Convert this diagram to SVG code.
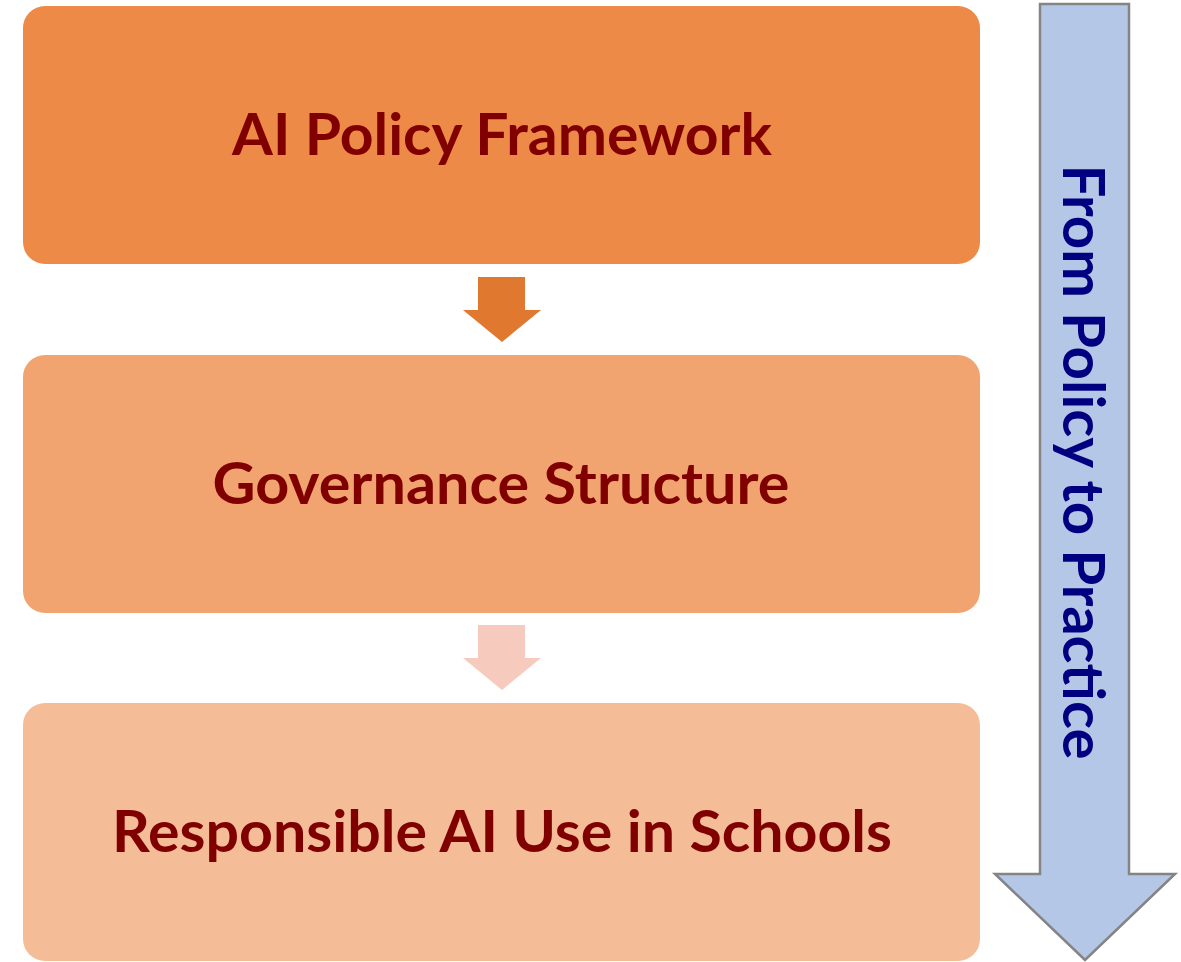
<svg xmlns="http://www.w3.org/2000/svg" width="1181" height="962" viewBox="0 0 1181 962">
<style>
.lbl{font-family:Lato,"Open Sans","Liberation Sans",sans-serif;font-weight:bold;font-size:57px;fill:#800000;text-anchor:middle}
.side{font-family:Lato,"Open Sans","Liberation Sans",sans-serif;font-weight:bold;font-size:57px;fill:#000080;text-anchor:middle}
</style>
<rect width="1181" height="962" fill="#ffffff"/>
<g id="side-arrow">
<path d="M1040,4 H1129 V874 H1175 L1085,960 L995,874 H1040 Z" fill="#B4C7E7" stroke="#848484" stroke-width="2.5" stroke-linejoin="miter"/>
<text class="side" transform="translate(1063,462) rotate(90)" x="0" y="0" textLength="595" lengthAdjust="spacingAndGlyphs">From Policy to Practice</text>
</g>
<g id="node-policy">
<rect x="23" y="6" width="957" height="258" rx="22" fill="#EE8A47"/>
<text class="lbl" x="502" y="155" textLength="540" lengthAdjust="spacingAndGlyphs">AI Policy Framework</text>
</g>
<g id="node-governance">
<rect x="23" y="355" width="957" height="258" rx="22" fill="#F1A46F"/>
<text class="lbl" x="501" y="504" textLength="577" lengthAdjust="spacingAndGlyphs">Governance Structure</text>
</g>
<g id="node-use">
<rect x="23" y="703" width="957" height="258" rx="22" fill="#F5BD97"/>
<text class="lbl" x="502" y="852" textLength="780" lengthAdjust="spacingAndGlyphs">Responsible AI Use in Schools</text>
</g>
<g id="connectors">
<path d="M478,277 H525 V310 H541 L502,342 L463,310 H478 Z" fill="#E07830"/>
<path d="M478,625 H525 V658 H541 L502,690 L463,658 H478 Z" fill="#F6CBBD"/>
</g>
</svg>
